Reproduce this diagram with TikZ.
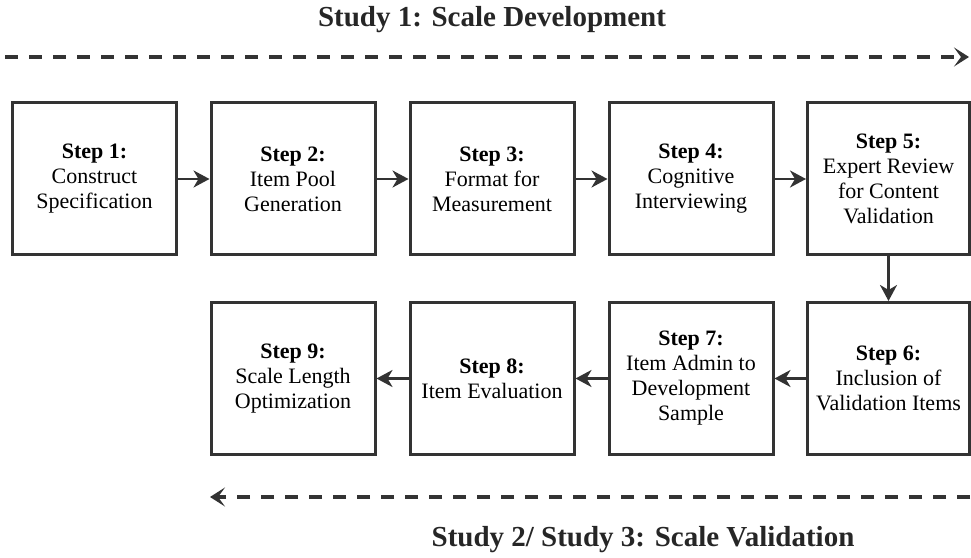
\documentclass[tikz,border=0pt]{standalone}
\usepackage{fontspec}
\setmainfont{Liberation Serif}
\usetikzlibrary{arrows.meta}
\definecolor{ink}{HTML}{333333}

\begin{document}
\begin{tikzpicture}[x=1pt, y=1pt,
    stepbox/.style={draw=ink, line width=3pt, minimum width=164pt, minimum height=152pt, align=center, font=\fontsize{22}{25}\selectfont, inner sep=2pt},
    studytitle/.style={font=\fontsize{29}{34}\selectfont\bfseries, text=black!85},
    arrow/.style={-{Stealth[length=16pt, width=17pt, inset=5pt]}, line width=2.6pt, ink},
    phase/.style={-{Stealth[length=15pt, width=19pt, inset=7pt]}, line width=4.2pt, ink, dash pattern=on 13pt off 11pt}
]
\useasboundingbox (0,0) rectangle (971,557);

% Study 1 banner
\node[studytitle] (dev) at (492, 537) {Study 1: Scale Development};
\coordinate (devstart) at (5, 500);
\coordinate (devend) at (969, 500);
\draw[phase] (devstart) -- (devend);

% First row: steps 1-5
\node[stepbox] (s1) at (94.5, 378) {\textbf{Step 1:}\\Construct\\Specification};
\node[stepbox] (s2) at (293, 378) {\textbf{Step 2:}\\Item Pool\\Generation};
\node[stepbox] (s3) at (492, 378) {\textbf{Step 3:}\\Format for\\Measurement};
\node[stepbox] (s4) at (691, 378) {\textbf{Step 4:}\\Cognitive\\Interviewing};
\node[stepbox, minimum width=162pt] (s5) at (888.5, 378) {\textbf{Step 5:}\\Expert Review\\for Content\\Validation};

% Second row: steps 6-9, right to left
\node[stepbox, minimum width=162pt] (s6) at (888.5, 178.5) {\textbf{Step 6:}\\Inclusion of\\Validation Items};
\node[stepbox] (s7) at (691, 178.5) {\textbf{Step 7:}\\Item Admin to\\Development\\Sample};
\node[stepbox] (s8) at (492, 178.5) {\textbf{Step 8:}\\Item Evaluation};
\node[stepbox] (s9) at (293, 178.5) {\textbf{Step 9:}\\Scale Length\\Optimization};

% Step flow
\draw[arrow] (s1) -- (s2);
\draw[arrow] (s2) -- (s3);
\draw[arrow] (s3) -- (s4);
\draw[arrow] (s4) -- (s5);
\draw[arrow] (s5) -- (s6);
\draw[arrow] (s6) -- (s7);
\draw[arrow] (s7) -- (s8);
\draw[arrow] (s8) -- (s9);

% Study 2/3 banner
\coordinate (valstart) at (970, 60);
\coordinate (valend) at (210, 60);
\draw[phase] (valstart) -- (valend);
\node[studytitle] (val) at (643, 17) {Study 2/ Study 3: Scale Validation};

\end{tikzpicture}
\end{document}
